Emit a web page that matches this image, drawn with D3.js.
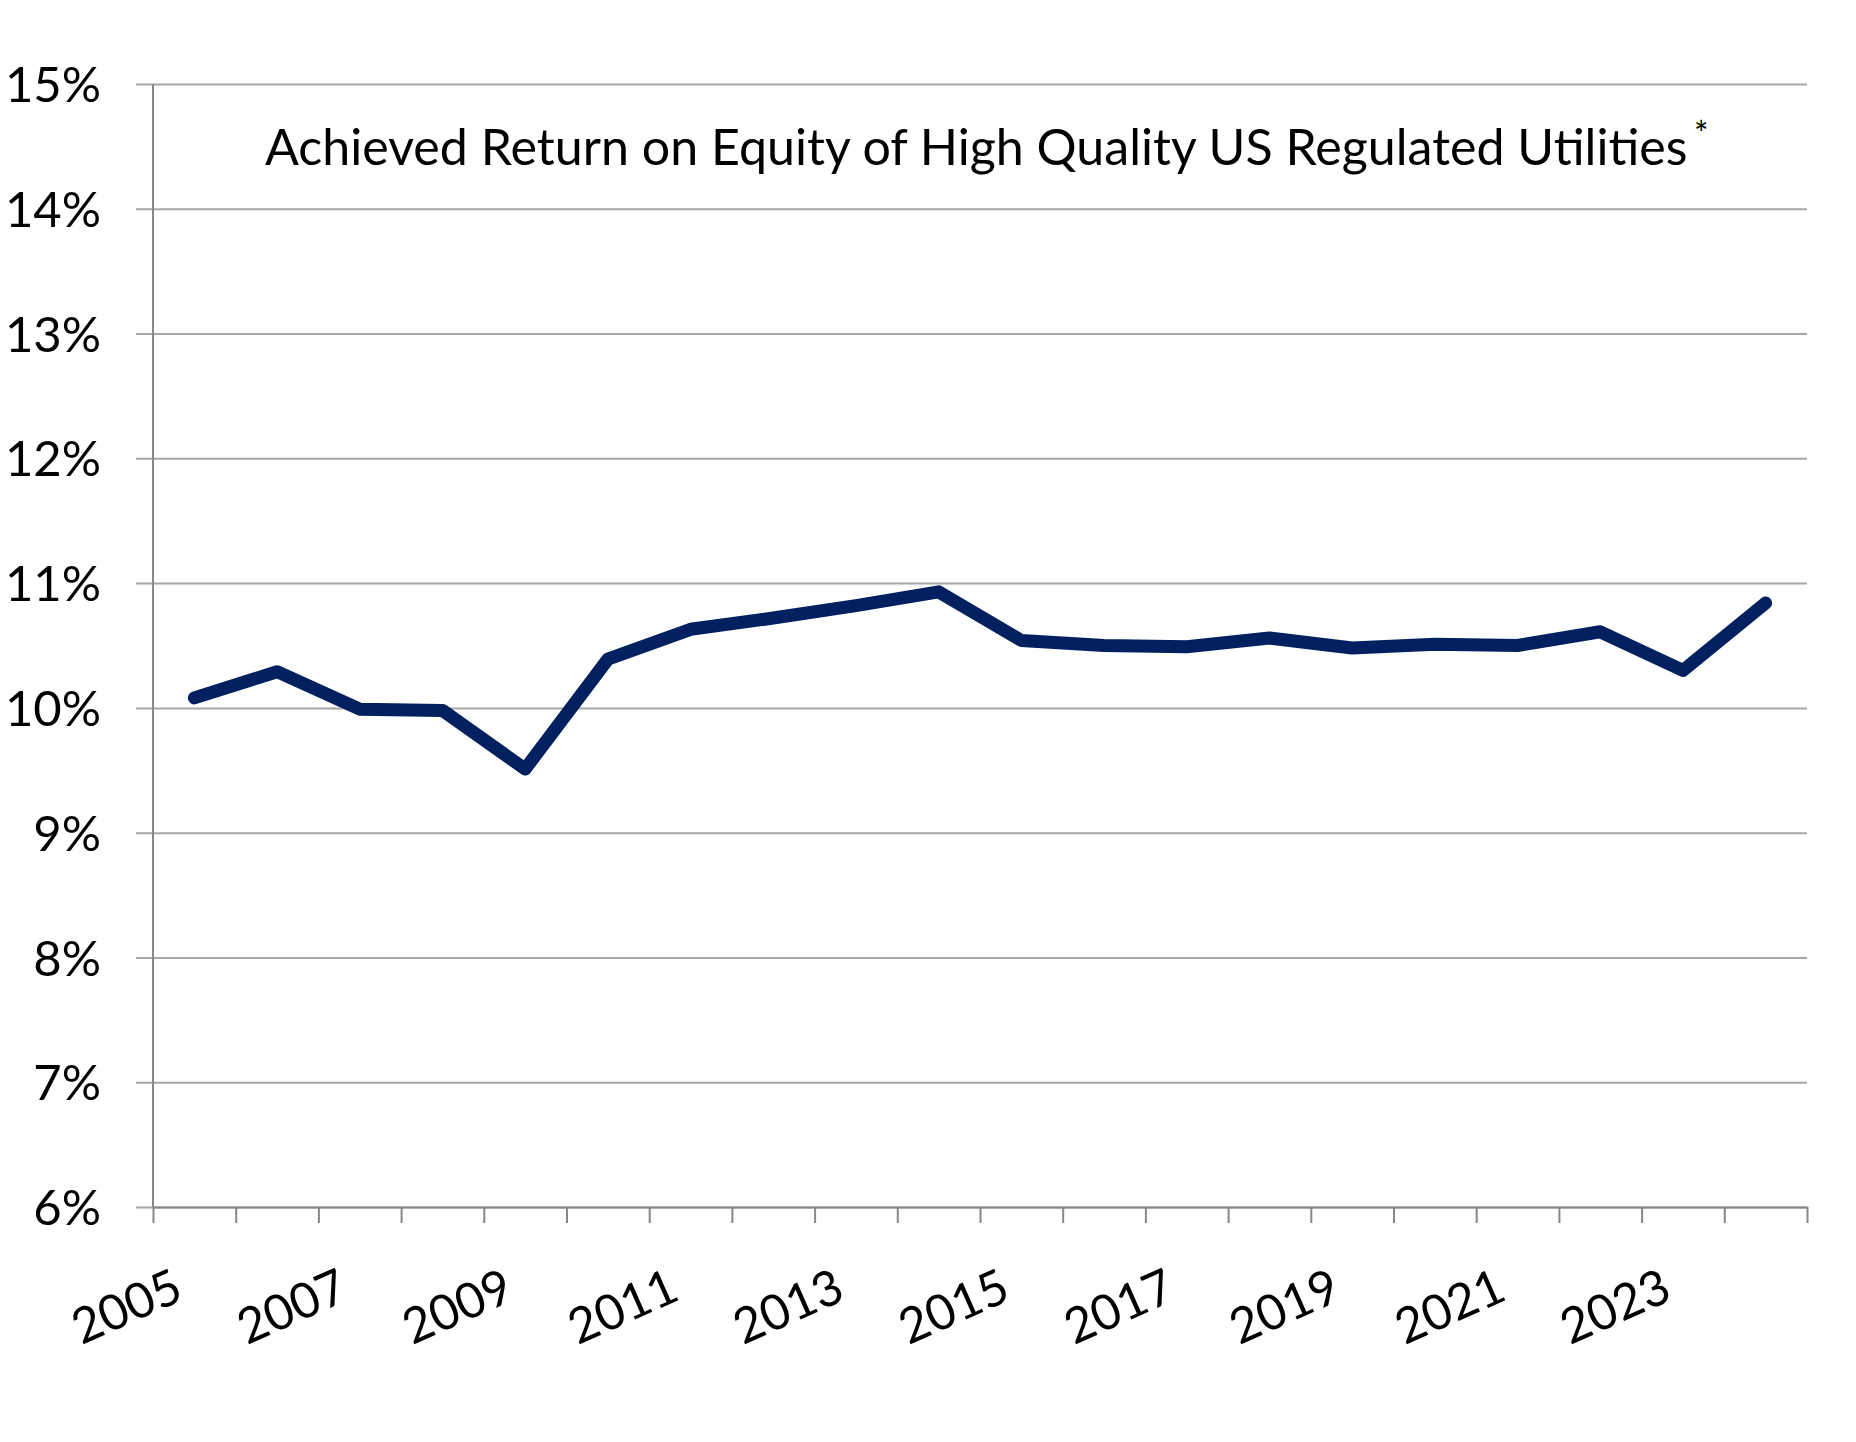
<!DOCTYPE html>
<html>
<head>
<meta charset="utf-8">
<script src="https://cdn.jsdelivr.net/npm/d3@7"></script>
<style>
  html, body { margin: 0; padding: 0; background: #ffffff; }
  svg { display: block; }
  text { font-family: Lato, "Open Sans", sans-serif; fill: #000; }
</style>
</head>
<body>
<svg id="chart" width="1856" height="1442"></svg>
<script>
// ---- data ----
const years = [2005, 2006, 2007, 2008, 2009, 2010, 2011, 2012, 2013, 2014,
               2015, 2016, 2017, 2018, 2019, 2020, 2021, 2022, 2023, 2024];
const roe = [10.08, 10.29, 9.99, 9.98, 9.51, 10.39, 10.63, 10.72, 10.82, 10.93,
             10.54, 10.50, 10.49, 10.56, 10.48, 10.51, 10.50, 10.61, 10.30, 10.84];
const yTicks = [6, 7, 8, 9, 10, 11, 12, 13, 14, 15];
const xLabelYears = [2005, 2007, 2009, 2011, 2013, 2015, 2017, 2019, 2021, 2023];
const titleText = "Achieved Return on Equity of High Quality US Regulated Utilities";

// ---- layout ----
const plot = { left: 153, right: 1807, top: 84, bottom: 1207 };
const svg = d3.select("#chart");

const x = d3.scaleLinear().domain([0, years.length]).range([plot.left, plot.right]);
const y = d3.scaleLinear().domain([6, 15]).range([plot.bottom, plot.top]);

// gridlines + y axis labels
const yAxis = d3.axisLeft(y)
  .tickValues(yTicks)
  .tickSize(-(plot.right - plot.left))
  .tickFormat(d => d + "%");
const gy = svg.append("g").attr("transform", `translate(${plot.left},0)`).call(yAxis);
gy.select(".domain").remove();
gy.selectAll(".tick line")
  .attr("x1", -17)
  .attr("stroke", "#a6a6a6")
  .attr("stroke-width", 2);
gy.selectAll(".tick text")
  .attr("x", -52)
  .attr("dy", "0.36em")
  .style("font-size", "49px")
  .style("font-family", "Lato, sans-serif")
  .attr("fill", "#000");

// x axis (ticks at category boundaries)
const xAxis = d3.axisBottom(x)
  .tickValues(d3.range(0, years.length + 1))
  .tickSize(16)
  .tickSizeOuter(0)
  .tickFormat("");
const gx = svg.append("g").attr("transform", `translate(0,${plot.bottom})`).call(xAxis);
gx.select(".domain").attr("stroke", "#878787").attr("stroke-width", 2);
gx.selectAll(".tick line").attr("stroke", "#878787").attr("stroke-width", 2);

// y axis line
svg.append("line")
  .attr("x1", plot.left).attr("x2", plot.left)
  .attr("y1", y(15)).attr("y2", plot.bottom)
  .attr("stroke", "#878787").attr("stroke-width", 2);

// x labels
svg.append("g").selectAll("text")
  .data(xLabelYears)
  .join("text")
  .attr("transform", d => {
    const cx = x(years.indexOf(d) + 0.5) - 9;
    return `translate(${cx},${plot.bottom + 92}) rotate(-24)`;
  })
  .attr("text-anchor", "end")
  .style("font-size", "49px")
  .text(d => d);

// line
const line = d3.line()
  .x((d, i) => x(i + 0.5))
  .y(d => y(d));
svg.append("path")
  .datum(roe)
  .attr("d", line)
  .attr("fill", "none")
  .attr("stroke", "#002060")
  .attr("stroke-width", 13)
  .attr("stroke-linecap", "round")
  .attr("stroke-linejoin", "round");

// title (horizontally condensed to match the original narrow face)
const target = 1423;
const title = svg.append("text")
  .attr("x", 0)
  .attr("y", 0)
  .style("font-size", "51px")
  .text(titleText);
const tw = title.node().getComputedTextLength();
title.attr("transform", `translate(265,165) scale(${target / tw},1)`);
svg.append("text")
  .attr("x", 265 + target + 6)
  .attr("y", 146)
  .style("font-size", "34px")
  .text("*");
</script>
</body>
</html>
